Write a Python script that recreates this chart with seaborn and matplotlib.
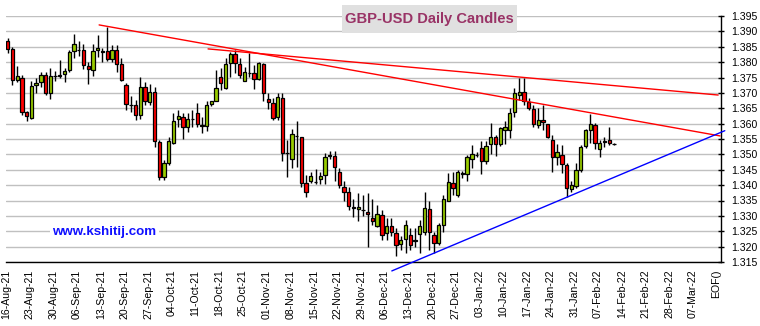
import numpy as np
import pandas as pd
import matplotlib
matplotlib.use("Agg")
import matplotlib.pyplot as plt
from matplotlib.patches import Rectangle
import seaborn as sns

# ---- daily OHLC, GBP-USD, from 16-Aug-21 (one row per trading day) ----
opens = [1.3869, 1.3842, 1.3741, 1.3747, 1.3637, 1.3618, 1.3725, 1.3734, 1.3757, 1.3701,
         1.3754, 1.3756, 1.3761, 1.3774, 1.3836, 1.3841, 1.3838, 1.3788, 1.3774, 1.3838,
         1.3835, 1.3836, 1.3810, 1.3838, 1.3793, 1.3726, 1.3662, 1.3661, 1.3627, 1.3719,
         1.3670, 1.3702, 1.3539, 1.3428, 1.3473, 1.3538, 1.3614, 1.3621, 1.3588, 1.3616,
         1.3634, 1.3594, 1.3593, 1.3664, 1.3675, 1.3753, 1.3715, 1.3796, 1.3826, 1.3794,
         1.3737, 1.3765, 1.3764, 1.3744, 1.3793, 1.3681, 1.3666, 1.3621, 1.3682, 1.3504,
         1.3484, 1.3561, 1.3556, 1.3406, 1.3414, 1.3410, 1.3419, 1.3432, 1.3496, 1.3495,
         1.3442, 1.3395, 1.3379, 1.3328, 1.3322, 1.3320, 1.3314, 1.3292, 1.3268, 1.3302,
         1.3244, 1.3268, 1.3244, 1.3210, 1.3224, 1.3237, 1.3220, 1.3241, 1.3249, 1.3323,
         1.3237, 1.3211, 1.3271, 1.3350, 1.3406, 1.3368, 1.3438, 1.3435, 1.3484, 1.3499,
         1.3522, 1.3479, 1.3533, 1.3557, 1.3533, 1.3579, 1.3580, 1.3637, 1.3693, 1.3702,
         1.3669, 1.3646, 1.3594, 1.3613, 1.3598, 1.3546, 1.3491, 1.3498, 1.3466, 1.3388,
         1.3398, 1.3448, 1.3527, 1.3580, 1.3594, 1.3518, 1.3542, 1.3546, 1.3533]
highs = [1.3877, 1.3848, 1.3787, 1.3758, 1.3641, 1.3737, 1.3747, 1.3769, 1.3769, 1.3782,
         1.3771, 1.3807, 1.3782, 1.3840, 1.3890, 1.3870, 1.3858, 1.3802, 1.3858, 1.3888,
         1.3845, 1.3915, 1.3856, 1.3856, 1.3812, 1.3733, 1.3691, 1.3676, 1.3751, 1.3734,
         1.3728, 1.3720, 1.3547, 1.3482, 1.3558, 1.3634, 1.3645, 1.3634, 1.3634, 1.3645,
         1.3666, 1.3621, 1.3672, 1.3675, 1.3774, 1.3780, 1.3812, 1.3833, 1.3839, 1.3812,
         1.3785, 1.3831, 1.3791, 1.3802, 1.3796, 1.3699, 1.3682, 1.3699, 1.3699, 1.3547,
         1.3582, 1.3609, 1.3558, 1.3433, 1.3444, 1.3452, 1.3444, 1.3504, 1.3512, 1.3512,
         1.3455, 1.3412, 1.3395, 1.3354, 1.3374, 1.3368, 1.3374, 1.3354, 1.3336, 1.3319,
         1.3292, 1.3292, 1.3260, 1.3233, 1.3287, 1.3260, 1.3260, 1.3287, 1.3379, 1.3347,
         1.3249, 1.3276, 1.3368, 1.3439, 1.3444, 1.3449, 1.3447, 1.3498, 1.3529, 1.3507,
         1.3542, 1.3542, 1.3601, 1.3564, 1.3590, 1.3607, 1.3650, 1.3715, 1.3747, 1.3750,
         1.3682, 1.3661, 1.3650, 1.3661, 1.3598, 1.3563, 1.3533, 1.3531, 1.3471, 1.3412,
         1.3471, 1.3531, 1.3583, 1.3631, 1.3601, 1.3547, 1.3558, 1.3590, 1.3538]
lows = [1.3829, 1.3726, 1.3734, 1.3628, 1.3607, 1.3616, 1.3699, 1.3720, 1.3693, 1.3680,
        1.3737, 1.3747, 1.3734, 1.3769, 1.3812, 1.3821, 1.3777, 1.3730, 1.3756, 1.3818,
        1.3800, 1.3805, 1.3802, 1.3767, 1.3737, 1.3643, 1.3637, 1.3613, 1.3615, 1.3661,
        1.3661, 1.3525, 1.3417, 1.3417, 1.3466, 1.3534, 1.3588, 1.3549, 1.3574, 1.3588,
        1.3588, 1.3571, 1.3577, 1.3657, 1.3672, 1.3710, 1.3712, 1.3753, 1.3764, 1.3747,
        1.3737, 1.3753, 1.3712, 1.3742, 1.3672, 1.3647, 1.3612, 1.3612, 1.3477, 1.3428,
        1.3455, 1.3460, 1.3395, 1.3363, 1.3406, 1.3404, 1.3404, 1.3403, 1.3486, 1.3412,
        1.3390, 1.3347, 1.3319, 1.3296, 1.3282, 1.3300, 1.3200, 1.3271, 1.3263, 1.3222,
        1.3220, 1.3233, 1.3170, 1.3189, 1.3179, 1.3189, 1.3200, 1.3179, 1.3238, 1.3189,
        1.3179, 1.3206, 1.3246, 1.3347, 1.3368, 1.3363, 1.3422, 1.3412, 1.3455, 1.3492,
        1.3436, 1.3468, 1.3500, 1.3494, 1.3528, 1.3533, 1.3553, 1.3623, 1.3677, 1.3661,
        1.3645, 1.3590, 1.3585, 1.3580, 1.3553, 1.3444, 1.3466, 1.3439, 1.3363, 1.3379,
        1.3390, 1.3444, 1.3520, 1.3536, 1.3518, 1.3493, 1.3525, 1.3531, 1.3531]
closes = [1.3842, 1.3741, 1.3754, 1.3637, 1.3624, 1.3722, 1.3731, 1.3757, 1.3701, 1.3756,
          1.3755, 1.3757, 1.3770, 1.3832, 1.3858, 1.3840, 1.3790, 1.3777, 1.3836, 1.3846,
          1.3834, 1.3811, 1.3838, 1.3795, 1.3741, 1.3663, 1.3661, 1.3627, 1.3719, 1.3673,
          1.3702, 1.3543, 1.3428, 1.3471, 1.3543, 1.3609, 1.3624, 1.3588, 1.3614, 1.3615,
          1.3599, 1.3593, 1.3660, 1.3673, 1.3715, 1.3731, 1.3793, 1.3826, 1.3796, 1.3758,
          1.3767, 1.3764, 1.3744, 1.3796, 1.3699, 1.3669, 1.3617, 1.3686, 1.3504, 1.3503,
          1.3565, 1.3560, 1.3406, 1.3379, 1.3430, 1.3409, 1.3430, 1.3491, 1.3497, 1.3458,
          1.3399, 1.3379, 1.3332, 1.3327, 1.3330, 1.3319, 1.3307, 1.3282, 1.3306, 1.3238,
          1.3268, 1.3247, 1.3205, 1.3222, 1.3270, 1.3205, 1.3219, 1.3268, 1.3325, 1.3246,
          1.3211, 1.3271, 1.3354, 1.3409, 1.3390, 1.3442, 1.3437, 1.3490, 1.3500, 1.3498,
          1.3477, 1.3528, 1.3557, 1.3533, 1.3587, 1.3589, 1.3634, 1.3698, 1.3702, 1.3672,
          1.3650, 1.3598, 1.3611, 1.3605, 1.3558, 1.3491, 1.3507, 1.3468, 1.3390, 1.3401,
          1.3448, 1.3524, 1.3578, 1.3598, 1.3536, 1.3536, 1.3541, 1.3538, 1.3533]

# weekly (Monday) tick labels, five trading days apart, plus the end marker
week_labels = ["16-Aug-21", "23-Aug-21", "30-Aug-21", "06-Sep-21", "13-Sep-21",
               "20-Sep-21", "27-Sep-21", "04-Oct-21", "11-Oct-21", "18-Oct-21",
               "25-Oct-21", "01-Nov-21", "08-Nov-21", "15-Nov-21", "22-Nov-21",
               "29-Nov-21", "06-Dec-21", "13-Dec-21", "20-Dec-21", "27-Dec-21",
               "03-Jan-22", "10-Jan-22", "17-Jan-22", "24-Jan-22", "31-Jan-22",
               "07-Feb-22", "14-Feb-22", "21-Feb-22", "28-Feb-22", "07-Mar-22", "EOF()"]

# trend lines: (trading-day index, price) end points
resist_a_x = [19.3, 150.4]
resist_a_y = [1.3921, 1.3560]
resist_b_x = [42.3, 150.0]
resist_b_y = [1.3843, 1.3693]
support_x = [81.1, 151.4]
support_y = [1.3121, 1.3577]

price_ticks = [round(1.315 + 0.005 * k, 3) for k in range(17)]

# ------------------------------------------------------------------
df = pd.DataFrame({"open": opens, "high": highs, "low": lows, "close": closes})
df["day"] = np.arange(len(df))
df["up"] = df["close"] >= df["open"]
df["body_lo"] = df[["open", "close"]].min(axis=1)
df["body_h"] = (df["close"] - df["open"]).abs()

sns.set_theme(style="white")
plt.rcParams["font.family"] = ["Liberation Sans", "DejaVu Sans"]

W, H = 760, 326
fig = plt.figure(figsize=(W / 100, H / 100), dpi=100)
ax = fig.add_axes([6 / W, 64 / H, 715 / W, 246 / H])

UP_COL = "#99cc00"
DN_COL = "#ff0000"

# wicks then bodies
ax.vlines(df["day"], df["low"], df["high"], color="black", lw=1.0, zorder=3)
ax.bar(df["day"], df["body_h"], bottom=df["body_lo"], width=0.7,
       color=np.where(df["up"], UP_COL, DN_COL), edgecolor="black",
       linewidth=0.9, zorder=4)

# trend lines
for xs, ys, col in [(resist_a_x, resist_a_y, "#ff0000"),
                    (resist_b_x, resist_b_y, "#ff0000"),
                    (support_x, support_y, "#0000ff")]:
    sns.lineplot(x=xs, y=ys, ax=ax, color=col, lw=1.0, legend=False,
                 clip_on=False, zorder=5)

# axes, grid, ticks
ax.set_xlim(-0.36, 150.6)
ax.set_ylim(1.315, 1.395)
ax.yaxis.tick_right()
ax.set_yticks(price_ticks)
ax.set_yticklabels([f"{v:.3f}" for v in price_ticks])
ax.yaxis.grid(True, color="#c0c0c0", lw=1.0, zorder=0)
ax.xaxis.grid(False)
ax.set_axisbelow(True)

tick_pos = np.arange(len(week_labels)) * 5 - 0.36
ax.set_xticks(tick_pos)
ax.set_xticklabels(week_labels, rotation=90, va="top", ha="center")
ax.tick_params(axis="x", direction="inout", length=5, width=1, color="black",
               labelsize=7.6, pad=3, labelcolor="black")
ax.tick_params(axis="y", direction="inout", length=5, width=1, color="black",
               labelsize=7.6, pad=5, labelcolor="black", right=True, left=False)
ax.set_xlabel("")
ax.set_ylabel("")

for s in ["left", "top"]:
    ax.spines[s].set_visible(False)
for s in ["bottom", "right"]:
    ax.spines[s].set_visible(True)
    ax.spines[s].set_color("black")
    ax.spines[s].set_linewidth(1.0)

# title box
fig.add_artist(Rectangle((342 / W, 1 - 33 / H), 175 / W, 28 / H,
                         transform=fig.transFigure, fc="#e0e0e0", ec="none",
                         zorder=6))
fig.text(429.5 / W, 1 - 19 / H, "GBP-USD Daily Candles", ha="center",
         va="center", fontsize=10.6, fontweight="bold", color="#993366",
         zorder=7)

# site label
fig.text(104.5 / W, 1 - 231.5 / H, "www.kshitij.com", ha="center", va="center",
         fontsize=9.6, fontweight="bold", color="#1010ff", zorder=7,
         bbox=dict(boxstyle="square,pad=0.15", fc="white", ec="none"))

fig.savefig("out.png", dpi=100)
